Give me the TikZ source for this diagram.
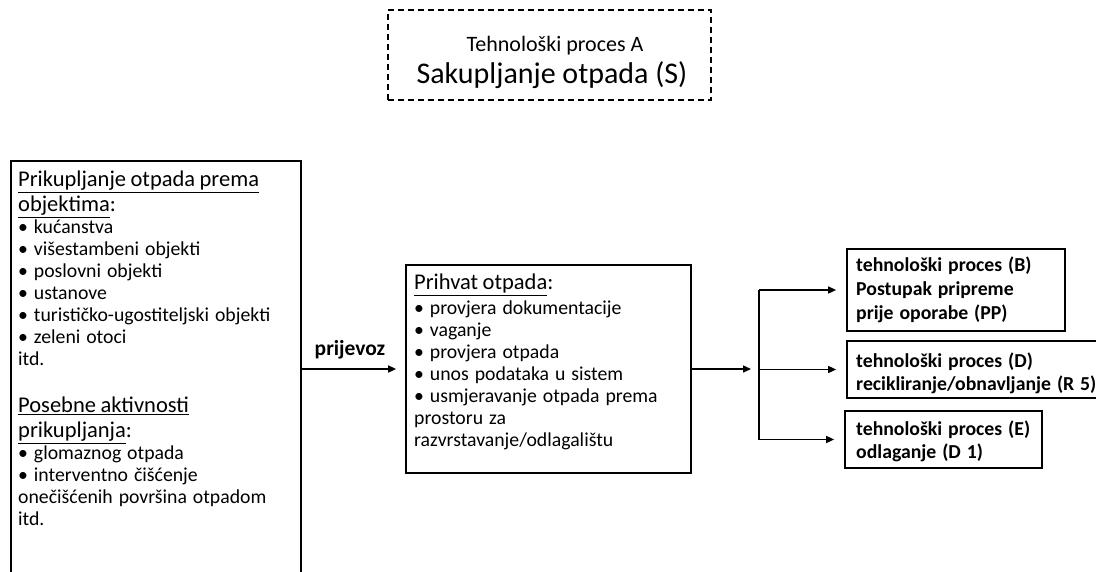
\documentclass[tikz,border=0pt]{standalone}
\usepackage{fontspec}
\setmainfont{Carlito}
\usetikzlibrary{arrows.meta}
\newcommand{\hdfont}{\fontsize{22.5}{25}\selectfont\spaceskip=0.2em\relax}
\newcommand{\bdfont}{\fontsize{19.75}{22}\selectfont\spaceskip=0.3em\relax}
\begin{document}
\begin{tikzpicture}[x=1pt,y=-1pt,
  box/.style={draw, line width=1.7pt, inner sep=0pt},
  dbox/.style={draw, line width=1.4pt, dash pattern=on 6pt off 4pt, inner sep=0pt},
  txt/.style={inner sep=0pt, align=left, anchor=north west, font=\bdfont},
  btxt/.style={inner sep=0pt, align=left, anchor=north west, font=\bdfont\bfseries},
  arr/.style={line width=1.5pt, -{Triangle[length=8pt,width=7pt]}},
  ln/.style={line width=1.5pt}]
\useasboundingbox (0,0) rectangle (1096,571);
% title
\node[dbox, minimum width=323pt, minimum height=90pt] (title) at (549.5,55) {};
\node[inner sep=0pt, font=\fontsize{22}{24}\selectfont] (t1) at (555,46) {Tehnološki proces A};
\node[inner sep=0pt, font=\fontsize{30}{32}\selectfont] (t2) at (552,75) {Sakupljanje otpada (S)};
% left box
\node[box, anchor=north west, minimum width=290pt, minimum height=440pt] (L) at (10,160) {};
\node[txt] (Ltxt) at (18,171) {{\hdfont\underline{Prikupljanje otpada prema}}\\[3pt]
{\hdfont\underline{objektima}:}\\
• kućanstva\\
• višestambeni objekti\\
• poslovni objekti\\
• ustanove\\
• turističko-ugostiteljski objekti\\
• zeleni otoci\\
itd.\\[25pt]
{\hdfont\underline{Posebne aktivnosti}}\\[3pt]
{\hdfont\underline{prikupljanja}:}\\
• glomaznog otpada\\
• interventno čišćenje\\
onečišćenih površina otpadom\\
itd.};
% middle box
\node[box, minimum width=285pt, minimum height=208pt] (M) at (548.5,369) {};
\node[txt] (Mtxt) at (414,274) {{\hdfont\underline{Prihvat otpada}:}\\[3pt]
• provjera dokumentacije\\
• vaganje\\
• provjera otpada\\
• unos podataka u sistem\\
• usmjeravanje otpada prema\\
prostoru za\\
razvrstavanje/odlagalištu};
% right boxes
\node[box, minimum width=218pt, minimum height=82pt] (B) at (956,290) {};
\node[btxt] (Btxt) at (856,257) {tehnološki proces (B)\\[2pt]Postupak pripreme\\[2pt]prije oporabe (PP)};
\node[box, minimum width=260pt, minimum height=57pt] (D) at (977,369.5) {};
\node[btxt] (Dtxt) at (856,353) {tehnološki proces (D)\\[1pt]recikliranje/obnavljanje (R 5)};
\node[box, minimum width=197pt, minimum height=57pt] (E) at (943.5,439.5) {};
\node[btxt] (Etxt) at (856,421) {tehnološki proces (E)\\[1pt]odlaganje (D 1)};
% connectors
\draw[arr, shorten >=9pt] (L.east |- M.west) -- (M.west);
\node[inner sep=0pt, font=\fontsize{21.5}{24}\selectfont\bfseries] (pl) at (350,350) {prijevoz};
\coordinate (br) at (759,369);
\draw[arr, shorten >=8pt] (M.east) -- (br);
\draw[ln] (br |- B.west) -- (br |- E.west);
\draw[arr, shorten >=10pt] (br |- B.west) -- (B.west);
\draw[arr, shorten >=10pt] (br |- D.west) -- (D.west);
\draw[arr, shorten >=10pt] (br |- E.west) -- (E.west);
\end{tikzpicture}
\end{document}
